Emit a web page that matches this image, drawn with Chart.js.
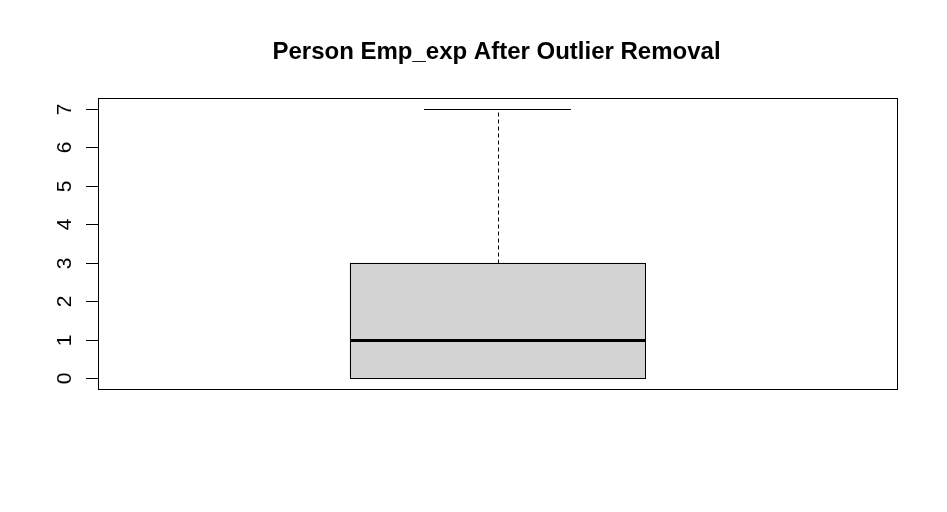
<!DOCTYPE html>
<html>
<head>
<meta charset="utf-8">
<script src="https://cdn.jsdelivr.net/npm/chart.js@4"></script>
<style>
html,body{margin:0;padding:0;background:#fff;}
#wrap{width:947px;height:512px;}
</style>
</head>
<body>
<div id="wrap"><canvas id="c" width="947" height="512"></canvas></div>
<script>
const chartTitle = 'Person Emp_exp After Outlier Removal';
const categories = ['Emp_exp'];
const q1Values = [0];
const medianValues = [1];
const q3Values = [3];
const whiskerLow = [0];
const whiskerHigh = [7];
const yTickValues = [0, 1, 2, 3, 4, 5, 6, 7];
const yTickLabels = ['0', '1', '2', '3', '4', '5', '6', '7'];

const FONT = '"Liberation Sans", Arial, Helvetica, sans-serif';

const boxPlugin = {
  id: 'rbox',
  afterDatasetsDraw(chart) {
    const ctx = chart.ctx;
    const ys = chart.scales.y;
    const area = chart.chartArea;
    const meta = chart.getDatasetMeta(0);
    ctx.save();
    ctx.strokeStyle = '#000';
    meta.data.forEach((el, i) => {
      const x = Math.round(el.x) + 0.5;
      const half = el.width / 2;
      const capHalf = half / 2;
      const yQ3 = Math.round(ys.getPixelForValue(q3Values[i])) + 0.5;
      const yQ1 = Math.round(ys.getPixelForValue(q1Values[i])) + 0.5;
      const yHi = Math.round(ys.getPixelForValue(whiskerHigh[i])) + 0.5;
      const yLo = Math.round(ys.getPixelForValue(whiskerLow[i])) + 0.5;
      const yMed = Math.round(ys.getPixelForValue(medianValues[i])) + 0.5;
      const xl = Math.round(el.x - half) + 0.5, xr = Math.round(el.x + half) + 0.5;
      // box outline
      ctx.lineWidth = 1;
      ctx.strokeRect(xl, yQ3, xr - xl, yQ1 - yQ3);
      // whiskers (dashed)
      ctx.setLineDash([4, 3]);
      ctx.beginPath();
      ctx.moveTo(x, yQ3); ctx.lineTo(x, yHi);
      ctx.moveTo(x, yQ1); ctx.lineTo(x, yLo);
      ctx.stroke();
      ctx.setLineDash([]);
      // caps
      ctx.beginPath();
      ctx.moveTo(Math.round(el.x - capHalf), yHi); ctx.lineTo(Math.round(el.x + capHalf), yHi);
      ctx.moveTo(Math.round(el.x - capHalf), yLo); ctx.lineTo(Math.round(el.x + capHalf), yLo);
      ctx.stroke();
      // median
      ctx.lineWidth = 3;
      ctx.beginPath();
      ctx.moveTo(xl, yMed);
      ctx.lineTo(xr, yMed);
      ctx.stroke();
    });
    // frame
    ctx.lineWidth = 1;
    ctx.strokeRect(Math.round(area.left) + 0.5, Math.round(area.top) + 0.5,
      Math.round(area.right - area.left), Math.round(area.bottom - area.top));
    // y axis ticks and labels
    ctx.fillStyle = '#000';
    ctx.font = '21px ' + FONT;
    ctx.textAlign = 'center';
    ctx.textBaseline = 'alphabetic';
    yTickValues.forEach((v, i) => {
      const y = Math.round(ys.getPixelForValue(v)) + 0.5;
      ctx.beginPath();
      ctx.moveTo(area.left - 12, y); ctx.lineTo(area.left, y);
      ctx.stroke();
      ctx.save();
      ctx.translate(area.left - 27, y);
      ctx.rotate(-Math.PI / 2);
      ctx.fillText(yTickLabels[i], 0, 0);
      ctx.restore();
    });
    // title
    ctx.font = 'bold 24px ' + FONT;
    ctx.textAlign = 'center';
    ctx.fillText(chartTitle, (area.left + area.right) / 2 - 1, 59);
    ctx.restore();
  }
};

new Chart(document.getElementById('c'), {
  type: 'bar',
  data: {
    labels: categories,
    datasets: [{
      data: categories.map((c, i) => [q1Values[i], q3Values[i]]),
      backgroundColor: '#d3d3d3',
      borderWidth: 0,
      barPercentage: 0.37,
      categoryPercentage: 1.0
    }]
  },
  options: {
    responsive: false,
    animation: false,
    layout: { padding: { left: 98, right: 50, top: 98, bottom: 123 } },
    plugins: { legend: { display: false }, tooltip: { enabled: false }, title: { display: false } },
    scales: {
      x: { display: false },
      y: { display: false, min: -0.28, max: 7.28 }
    }
  },
  plugins: [boxPlugin]
});
</script>
</body>
</html>
